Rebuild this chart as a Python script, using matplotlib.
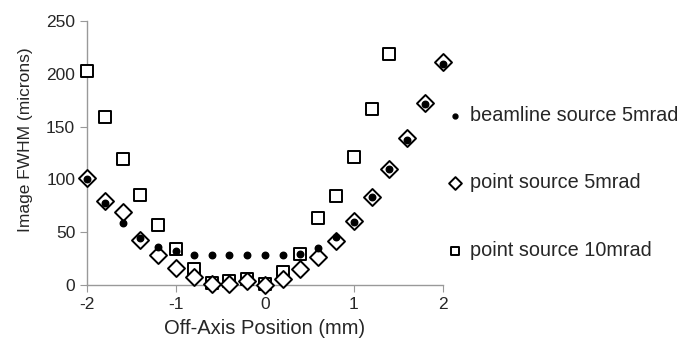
import matplotlib
matplotlib.use("Agg")
import matplotlib.pyplot as plt

plt.rcParams['font.family'] = ['Liberation Sans', 'DejaVu Sans']

x = [-2.0, -1.8, -1.6, -1.4, -1.2, -1.0, -0.8, -0.6, -0.4, -0.2, 0.0,
     0.2, 0.4, 0.6, 0.8, 1.0, 1.2, 1.4, 1.6, 1.8, 2.0]
beamline_5 = [100, 78, 59, 44, 36, 32.5, 28.5, 28, 28.5, 28, 28,
              28, 29, 35, 45, 60, 83, 109.5, 137, 171.5, 209.5]
point_5 = [101, 79.5, 69.5, 42.5, 28, 16.5, 7.5, 1, 1, 3.5, 0,
           5.5, 15, 26, 42, 61, 83.5, 109.5, 139.5, 172.5, 211]
x_10 = [-2.0, -1.8, -1.6, -1.4, -1.2, -1.0, -0.8, -0.6, -0.4, -0.2, 0.0,
        0.2, 0.4, 0.6, 0.8, 1.0, 1.2, 1.4]
point_10 = [202.5, 159, 119.5, 85.5, 56.5, 34, 15.5, 2, 4, 5.5, 0.5,
            12, 29, 63, 84, 121.5, 166.5, 218.5]

labels = ["beamline source 5mrad", "point source 5mrad", "point source 10mrad"]
xticks = [-2, -1, 0, 1, 2]
yticks = [0, 50, 100, 150, 200, 250]

fig = plt.figure(figsize=(6.8, 3.38), dpi=100)
ax = fig.add_axes([0.128, 0.157, 0.523, 0.781])

txt = '#262626'
ax.scatter(x_10, point_10, marker='s', s=70, facecolors='white', edgecolors='black',
           linewidths=1.4, label=labels[2], zorder=3)
ax.scatter(x, point_5, marker='D', s=75, facecolors='white', edgecolors='black',
           linewidths=1.4, label=labels[1], zorder=4)
ax.scatter(x, beamline_5, marker='o', s=22, facecolors='black', edgecolors='black',
           label=labels[0], zorder=5)

ax.set_xlim(-2, 2)
ax.set_ylim(0, 250)
ax.set_xticks(xticks)
ax.set_yticks(yticks)
ax.set_xticklabels([str(t) for t in xticks])
ax.set_yticklabels([str(t) for t in yticks])
for s in ['top', 'right']:
    ax.spines[s].set_visible(False)
for s in ['left', 'bottom']:
    ax.spines[s].set_color('#999999')
    ax.spines[s].set_linewidth(1.0)
ax.tick_params(axis='both', colors='#999999', labelcolor=txt, labelsize=12.5, length=5, direction='out')
ax.tick_params(axis='x', pad=4)
ax.set_xlabel("Off-Axis Position (mm)", fontsize=14.5, color=txt, labelpad=5)
ax.set_ylabel("Image FWHM (microns)", fontsize=12.5, color=txt)
ax.yaxis.set_label_coords(-0.152, 0.55)
for c in ax.collections:
    c.set_clip_on(False)

h, l = ax.get_legend_handles_labels()
order = [2, 1, 0]
leg = fig.legend([h[i] for i in order], [l[i] for i in order], loc='center left',
                 bbox_to_anchor=(445 / 680, (338 - 183) / 338), frameon=False, fontsize=14.3,
                 labelspacing=2.45, handletextpad=0.25, markerscale=0.75,
                 handlelength=1.0, borderpad=0, borderaxespad=0)
for t in leg.get_texts():
    t.set_color(txt)

fig.savefig("out.png", dpi=100)
